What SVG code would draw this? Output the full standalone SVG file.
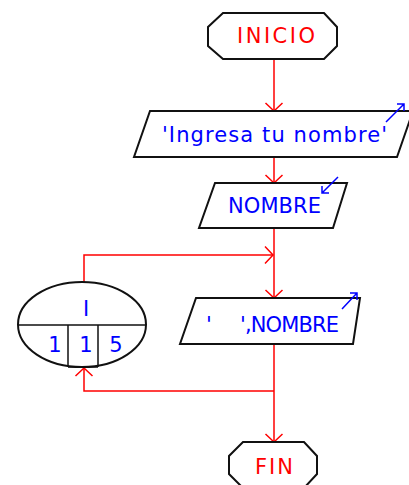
<svg xmlns="http://www.w3.org/2000/svg" width="409" height="485" viewBox="0 0 409 485">
<style>
.shape{fill:#fff;stroke:#111;stroke-width:2;stroke-linejoin:miter}
.conn{fill:none;stroke:#f00;stroke-width:1.5}
.head{fill:none;stroke:#f00;stroke-width:1.5}
.red{fill:#f00;font-family:"DejaVu Sans",Verdana,sans-serif;font-size:21px}
.blue{fill:#00f;font-family:"DejaVu Sans",Verdana,sans-serif;font-size:21px}
.io{fill:none;stroke:#00f;stroke-width:1.5}
</style>
<defs>
<marker id="arr" markerUnits="userSpaceOnUse" markerWidth="20" markerHeight="20" refX="10" refY="10" orient="auto" viewBox="0 0 20 20">
<path d="M2,1.5 L10,10 L2,18.5" class="head"/>
</marker>
</defs>
<rect width="409" height="485" fill="#fff"/>
<g id="connectors">
<path class="conn" d="M274,59 V111" marker-end="url(#arr)"/>
<path class="conn" d="M274,157 V183" marker-end="url(#arr)"/>
<path class="conn" d="M274,228 V298" marker-end="url(#arr)"/>
<path class="conn" d="M84,283 V255 H273" marker-end="url(#arr)"/>
<path class="conn" d="M274,344 V442" marker-end="url(#arr)"/>
<path class="conn" d="M274,391 H84 V368" marker-end="url(#arr)"/>
</g>
<g id="inicio">
<polygon class="shape" points="223,13 324,13 337,27 337,46 324,59 223,59 208,46 208,27"/>
<text class="red" x="237" y="43" textLength="78" lengthAdjust="spacing">INICIO</text>
</g>
<g id="entrada-mensaje">
<polygon class="shape" points="150,111 413,111 397,157 134,157"/>
<text class="blue" x="162" y="142" textLength="225" lengthAdjust="spacing">'Ingresa tu nombre'</text>
<path class="io" d="M386,122 L404,104 M397,104 H404 V111"/>
</g>
<g id="leer-nombre">
<polygon class="shape" points="215,183 347,183 333,228 199,228"/>
<text class="blue" x="228" y="213" textLength="93" lengthAdjust="spacing">NOMBRE</text>
<path class="io" d="M338,177 L322,193 M329,193 H322 V186"/>
</g>
<g id="ciclo">
<ellipse class="shape" cx="82" cy="324.5" rx="64" ry="42.5" stroke-width="1.5"/>
<path d="M18,325 H146 M68,325 V367 M98,325 V367 M68,367 H98" fill="none" stroke="#111" stroke-width="1.5"/>
<text class="blue" x="86" y="316" text-anchor="middle" font-size="19">I</text>
<text class="blue" x="55" y="352" text-anchor="middle" font-size="19">1</text>
<text class="blue" x="86" y="352" text-anchor="middle" font-size="19">1</text>
<text class="blue" x="116" y="352" text-anchor="middle" font-size="19">5</text>
</g>
<g id="mostrar-nombre">
<polygon class="shape" points="196,298 360,298 353,344 180,344"/>
<text class="blue" xml:space="preserve"><tspan x="206" y="332">'  </tspan><tspan x="240" y="332" textLength="99" lengthAdjust="spacing">',NOMBRE</tspan></text>
<path class="io" d="M342,309 L357,293 M350,293 H357 V300"/>
</g>
<g id="fin">
<polygon class="shape" points="243,442 304,442 317,456 317,474 304,488 243,488 229,474 229,456"/>
<text class="red" x="255" y="474" textLength="38" lengthAdjust="spacing">FIN</text>
</g>
</svg>
